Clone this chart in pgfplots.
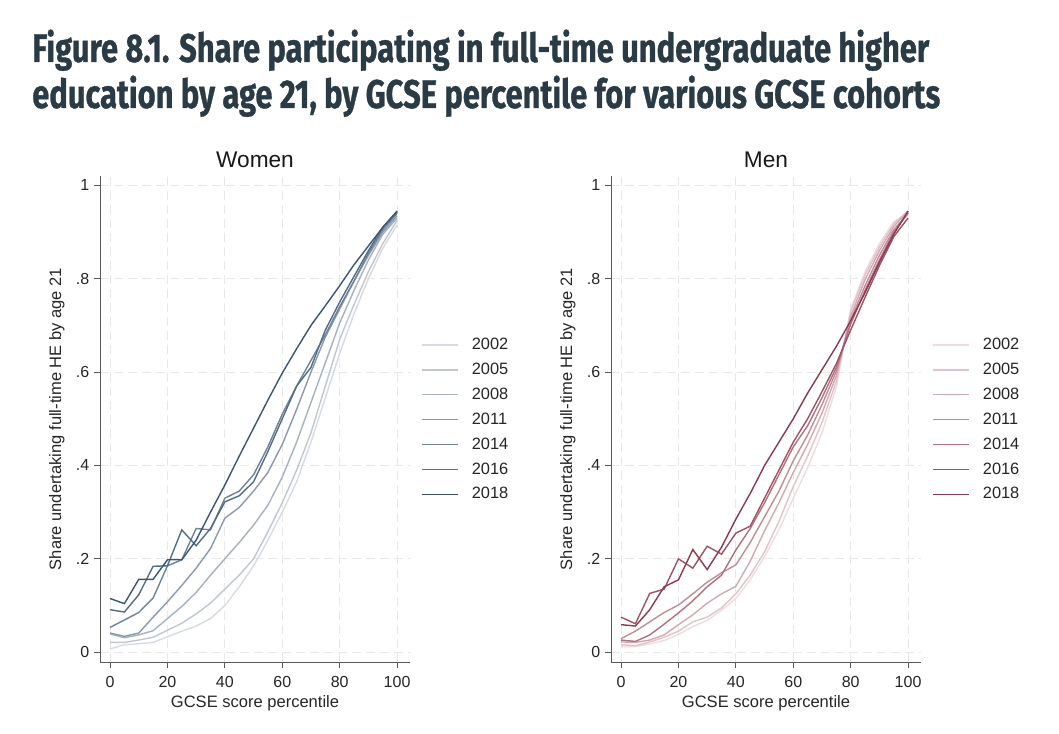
\documentclass[border=0pt]{standalone}
\usepackage{fontspec}
\setmainfont{Liberation Sans}
\newfontfamily\titlefont[FakeBold=0.9]{Fira Sans}
\usepackage{graphicx}
\usepackage{pgfplots}
\usepackage{pgfplotstable}
\pgfplotsset{compat=1.18}

\definecolor{titlecol}{HTML}{2A3B45}
\definecolor{w02}{HTML}{D6DBE1}
\definecolor{w05}{HTML}{BFC7D0}
\definecolor{w08}{HTML}{A6B2BF}
\definecolor{w11}{HTML}{8A9AAC}
\definecolor{w14}{HTML}{6E8399}
\definecolor{w16}{HTML}{536D86}
\definecolor{w18}{HTML}{3A5674}
\definecolor{m02}{HTML}{EDDCE0}
\definecolor{m05}{HTML}{E2C3CA}
\definecolor{m08}{HTML}{D4A8B2}
\definecolor{m11}{HTML}{C38C99}
\definecolor{m14}{HTML}{B1717F}
\definecolor{m16}{HTML}{9D5265}
\definecolor{m18}{HTML}{8C3A4F}

\pgfplotstableread{
p   y02   y05   y08   y11   y14   y16   y18
0   0.007 0.021 0.039 0.041 0.053 0.091 0.115
5   0.016 0.021 0.031 0.034 0.069 0.086 0.104
10  0.018 0.026 0.037 0.041 0.085 0.123 0.156
15  0.021 0.032 0.046 0.075 0.116 0.184 0.156
20  0.033 0.047 0.072 0.108 0.185 0.185 0.198
25  0.045 0.062 0.098 0.143 0.198 0.262 0.198
30  0.056 0.082 0.128 0.180 0.265 0.228 0.240
35  0.072 0.105 0.165 0.222 0.262 0.265 0.300
40  0.100 0.135 0.200 0.287 0.330 0.322 0.358
45  0.140 0.165 0.235 0.310 0.345 0.335 0.420
50  0.185 0.200 0.272 0.345 0.380 0.365 0.480
55  0.240 0.258 0.315 0.385 0.440 0.430 0.540
60  0.300 0.320 0.375 0.445 0.510 0.500 0.598
65  0.365 0.390 0.450 0.520 0.570 0.570 0.650
70  0.450 0.470 0.535 0.600 0.625 0.610 0.700
75  0.545 0.570 0.620 0.675 0.680 0.690 0.742
80  0.640 0.670 0.705 0.735 0.740 0.750 0.785
85  0.725 0.745 0.775 0.795 0.795 0.805 0.830
90  0.800 0.815 0.840 0.850 0.855 0.860 0.870
95  0.865 0.875 0.895 0.900 0.905 0.910 0.910
100 0.915 0.925 0.930 0.935 0.940 0.943 0.945
}\women

\pgfplotstableread{
p   y02   y05   y08   y11   y14   y16   y18
0   0.012 0.016 0.022 0.029 0.026 0.075 0.059
5   0.012 0.014 0.021 0.045 0.023 0.061 0.056
10  0.018 0.022 0.026 0.065 0.037 0.126 0.091
15  0.025 0.032 0.037 0.085 0.060 0.135 0.140
20  0.038 0.045 0.059 0.101 0.084 0.200 0.155
25  0.055 0.065 0.080 0.125 0.110 0.180 0.220
30  0.068 0.075 0.105 0.150 0.140 0.227 0.177
35  0.090 0.095 0.125 0.170 0.165 0.210 0.225
40  0.115 0.125 0.141 0.187 0.219 0.255 0.285
45  0.155 0.165 0.195 0.235 0.265 0.270 0.340
50  0.205 0.215 0.260 0.290 0.320 0.330 0.400
55  0.262 0.280 0.320 0.345 0.380 0.390 0.450
60  0.330 0.355 0.385 0.410 0.440 0.450 0.500
65  0.395 0.420 0.445 0.465 0.485 0.500 0.555
70  0.470 0.492 0.512 0.530 0.545 0.558 0.605
75  0.568 0.580 0.592 0.602 0.610 0.618 0.655
80  0.735 0.730 0.720 0.712 0.703 0.690 0.710
85  0.815 0.808 0.798 0.785 0.775 0.760 0.770
90  0.875 0.868 0.860 0.850 0.840 0.828 0.835
95  0.922 0.918 0.912 0.905 0.900 0.890 0.895
100 0.940 0.945 0.945 0.940 0.940 0.930 0.945
}\men

\pgfplotsset{
  panel/.style={
    scale only axis, width=232.5pt, height=364.5pt,
    xmin=-3.5, xmax=104.5, ymin=-0.021, ymax=1.02,
    axis x line*=bottom, axis y line*=left,
    x axis line style={-, black!65, line width=0.6pt},
    y axis line style={-, black!65, line width=0.6pt},
    tick align=outside, major tick length=4.5pt,
    tick style={black!65, line width=0.6pt},
    xtick={0,20,40,60,80,100}, ytick={0,0.2,0.4,0.6,0.8,1},
    xticklabels={0,20,40,60,80,100},
    yticklabels={0,.2,.4,.6,.8,1},
    ticklabel style={font=\fontsize{12}{14}\selectfont, text=black!85},
    xticklabel style={yshift=-2.5pt},
    /pgf/number format/assume math mode=true,
    grid=major,
    major grid style={black!9, dash pattern=on 7pt off 3.5pt, line width=0.6pt},
    xlabel={GCSE score percentile},
    ylabel={Share undertaking full-time HE by age 21},
    every axis x label/.style={at={(rel axis cs:0.5,-0.0844)}, anchor=center,
      font=\fontsize{12.4}{14}\selectfont, text=black!85},
    every axis y label/.style={at={(rel axis cs:-0.139,0.5)}, anchor=center, rotate=90,
      font=\fontsize{12.4}{14}\selectfont, text=black!85},
    every axis title/.style={at={(rel axis cs:0.5,1.0329)}, anchor=center,
      font=\fontsize{17}{20}\selectfont, text=black!90},
    legend style={at={(rel axis cs:1.037,0.6778)}, anchor=north west, draw=none, fill=none,
      inner sep=0pt, outer sep=0pt, row sep=0pt,
      font=\fontsize{12.3}{14}\selectfont, text=black!85,
      nodes={anchor=west, inner sep=0pt, minimum height=18.65pt},
      /tikz/every odd column/.append style={column sep=9.75pt}},
    legend cell align=left,
    legend image code/.code={\draw[#1] (0pt,0pt) -- (27pt,0pt);},
    every axis plot/.append style={line width=1.05pt},
  }
}

\begin{document}
\begin{tikzpicture}
\useasboundingbox (0,0) rectangle (794.25pt,550.5pt);
\fill[white] (0,0) rectangle (794.25pt,550.5pt);
\node[anchor=base west, inner sep=0pt, text=titlecol] at (24pt,504pt)
  {\resizebox{672.75pt}{\height}{\titlefont\bfseries\fontsize{30}{34}\selectfont Figure 8.1. Share participating in full-time undergraduate higher}};
\node[anchor=base west, inner sep=0pt, text=titlecol] at (24pt,469.5pt)
  {\resizebox{681pt}{\height}{\titlefont\bfseries\fontsize{30}{34}\selectfont education by age 21, by GCSE percentile for various GCSE cohorts}};

\begin{axis}[panel, at={(75pt,54pt)}, anchor=south west, title={Women}]
\addplot[w02] table[x=p, y=y02] {\women}; \addlegendentry{2002}
\addplot[w05] table[x=p, y=y05] {\women}; \addlegendentry{2005}
\addplot[w08] table[x=p, y=y08] {\women}; \addlegendentry{2008}
\addplot[w11] table[x=p, y=y11] {\women}; \addlegendentry{2011}
\addplot[w14] table[x=p, y=y14] {\women}; \addlegendentry{2014}
\addplot[w16] table[x=p, y=y16] {\women}; \addlegendentry{2016}
\addplot[w18] table[x=p, y=y18] {\women}; \addlegendentry{2018}
\end{axis}

\begin{axis}[panel, at={(458.25pt,54pt)}, anchor=south west, title={Men}]
\addplot[m02] table[x=p, y=y02] {\men}; \addlegendentry{2002}
\addplot[m05] table[x=p, y=y05] {\men}; \addlegendentry{2005}
\addplot[m08] table[x=p, y=y08] {\men}; \addlegendentry{2008}
\addplot[m11] table[x=p, y=y11] {\men}; \addlegendentry{2011}
\addplot[m14] table[x=p, y=y14] {\men}; \addlegendentry{2014}
\addplot[m16] table[x=p, y=y16] {\men}; \addlegendentry{2016}
\addplot[m18] table[x=p, y=y18] {\men}; \addlegendentry{2018}
\end{axis}
\end{tikzpicture}
\end{document}
